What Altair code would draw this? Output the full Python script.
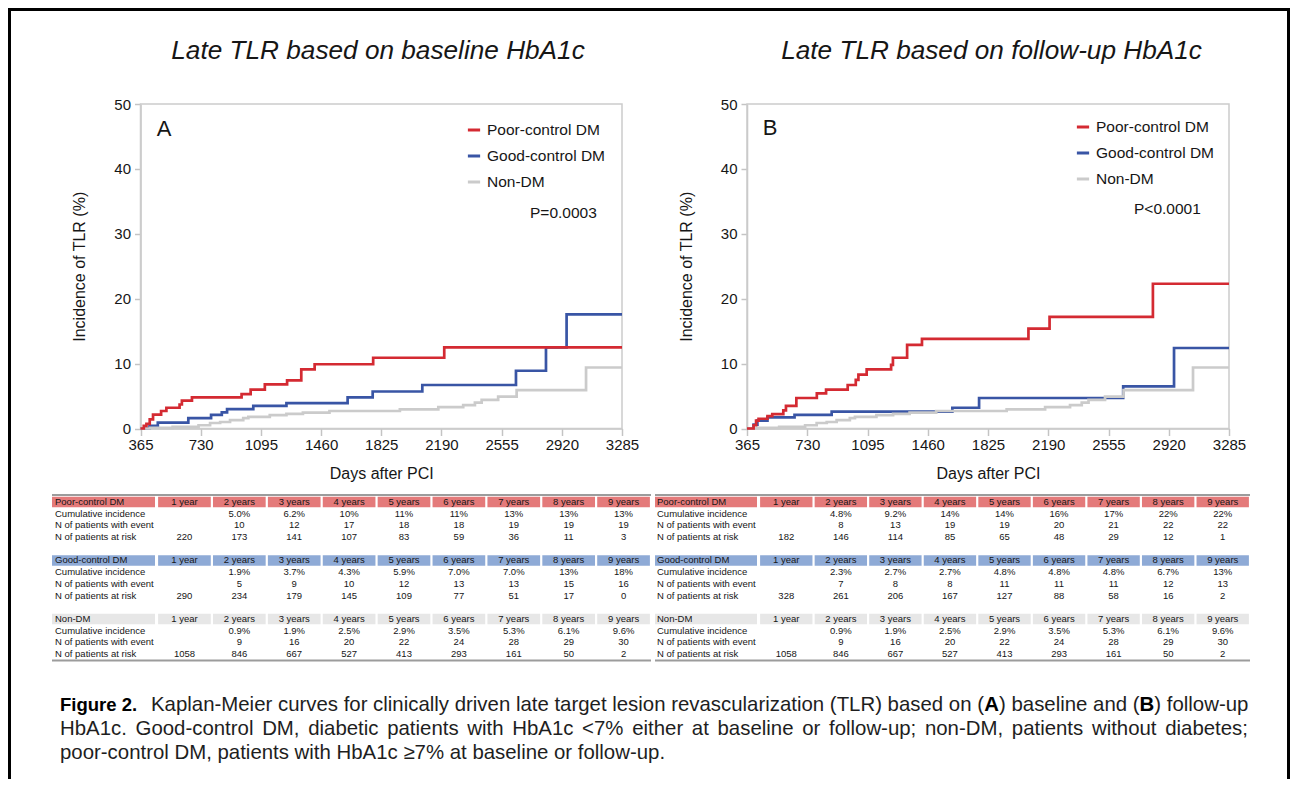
import altair as alt
import pandas as pd

FONT = "Liberation Sans, Arial, Helvetica, sans-serif"
NARROW = "Liberation Sans Narrow, Arial Narrow, Liberation Sans, sans-serif"
W, H = 1282, 771

# ---------------- data ----------------
groups = ["Poor-control DM", "Good-control DM", "Non-DM"]
line_colors = ["#d42a32", "#3955a5", "#cbcbcb"]
header_colors = ["#e47a7a", "#8eaad6", "#e7e7e7"]
x_ticks = [365, 730, 1095, 1460, 1825, 2190, 2555, 2920, 3285]
y_ticks = [0, 10, 20, 30, 40, 50]

# Panel A (baseline HbA1c)
a_poor_days = [365, 385, 401, 421, 441, 490, 522, 602, 616, 677, 978, 1033, 1119, 1254, 1340, 1421, 1776, 2207, 3285]
a_poor_inc = [0, 0.4, 0.7, 1.4, 2.15, 2.7, 3.2, 3.7, 4.3, 4.8, 5.3, 6.0, 6.8, 7.4, 9.1, 9.9, 10.9, 12.5, 12.5]
a_good_days = [365, 420, 470, 655, 793, 858, 890, 1049, 1250, 1621, 1773, 2074, 2642, 2824, 2949, 3285]
a_good_inc = [0, 0.4, 0.9, 1.6, 2.1, 2.5, 3.0, 3.5, 3.9, 4.8, 5.7, 6.7, 8.9, 12.5, 17.6, 17.6]
# Non-DM (same patients in both panels)
non_days = [365, 425, 560, 717, 787, 848, 908, 988, 1019, 1149, 1250, 1350, 1511, 1938, 2171, 2322, 2393, 2434, 2534, 2646, 3067, 3285]
non_inc = [0, 0.1, 0.25, 0.5, 0.85, 1.0, 1.3, 1.6, 1.8, 2.05, 2.25, 2.45, 2.7, 2.95, 3.3, 3.6, 4.0, 4.4, 4.9, 5.9, 9.4, 9.4]
# Panel B (follow-up HbA1c)
b_poor_days = [365, 405, 420, 435, 489, 518, 585, 601, 664, 788, 844, 975, 1024, 1040, 1090, 1238, 1249, 1335, 1425, 2070, 2198, 2824, 3285]
b_poor_inc = [0, 0.5, 1.2, 1.5, 1.9, 2.2, 2.8, 3.5, 4.7, 5.4, 6.0, 6.7, 7.5, 8.3, 9.1, 9.8, 10.9, 12.9, 13.8, 15.4, 17.2, 22.3, 22.3]
b_good_days = [365, 405, 428, 489, 653, 878, 1609, 1771, 2644, 2952, 3285]
b_good_inc = [0, 0.6, 1.2, 1.7, 2.1, 2.6, 3.2, 4.7, 6.5, 12.4, 12.4]

panel_titles = ["Late TLR based on baseline HbA1c", "Late TLR based on follow-up HbA1c"]
panel_letters = ["A", "B"]
p_values = ["P=0.0003", "P<0.0001"]

years = ["1 year", "2 years", "3 years", "4 years", "5 years", "6 years", "7 years", "8 years", "9 years"]
row_labels = ["Cumulative incidence", "N of patients with event", "N of patients at risk"]

a_poor_cum = ["", "5.0%", "6.2%", "10%", "11%", "11%", "13%", "13%", "13%"]
a_poor_evt = ["", "10", "12", "17", "18", "18", "19", "19", "19"]
a_poor_risk = ["220", "173", "141", "107", "83", "59", "36", "11", "3"]
a_good_cum = ["", "1.9%", "3.7%", "4.3%", "5.9%", "7.0%", "7.0%", "13%", "18%"]
a_good_evt = ["", "5", "9", "10", "12", "13", "13", "15", "16"]
a_good_risk = ["290", "234", "179", "145", "109", "77", "51", "17", "0"]
non_cum = ["", "0.9%", "1.9%", "2.5%", "2.9%", "3.5%", "5.3%", "6.1%", "9.6%"]
non_evt = ["", "9", "16", "20", "22", "24", "28", "29", "30"]
non_risk = ["1058", "846", "667", "527", "413", "293", "161", "50", "2"]
b_poor_cum = ["", "4.8%", "9.2%", "14%", "14%", "16%", "17%", "22%", "22%"]
b_poor_evt = ["", "8", "13", "19", "19", "20", "21", "22", "22"]
b_poor_risk = ["182", "146", "114", "85", "65", "48", "29", "12", "1"]
b_good_cum = ["", "2.3%", "2.7%", "2.7%", "4.8%", "4.8%", "4.8%", "6.7%", "13%"]
b_good_evt = ["", "7", "8", "8", "11", "11", "11", "12", "13"]
b_good_risk = ["328", "261", "206", "167", "127", "88", "58", "16", "2"]

caption_fig = "Figure 2."
caption_l1 = ["Kaplan-Meier curves for clinically driven late target lesion revascularization (TLR) based on (",
              "A", ") baseline and (", "B", ") follow-up"]
caption_l2 = ("HbA1c. Good-control DM, diabetic patients with HbA1c <7% either at baseline "
              "or follow-up; non-DM, patients without diabetes;")
caption_l3 = "poor-control DM, patients with HbA1c \u22657% at baseline or follow-up."

# ---------------- layout (pixels in the canvas) ----------------
Y_BOT, Y_TOP = 420.5, 96
TXT = "#161616"
CAP_SIZE = 20.4
# Helvetica/Arial advance widths (1/1000 em) used to justify caption line 2
ADV = {' ': 278, 'H': 722, 'b': 556, 'A': 667, '1': 556, 'c': 500, '.': 278, 'G': 778, 'o': 556,
       'd': 556, '-': 333, 'n': 556, 't': 278, 'r': 333, 'l': 222, 'D': 722, 'M': 833, ',': 278,
       'i': 222, 'a': 556, 'e': 556, 'p': 556, 's': 500, 'w': 722, 'h': 556, '<': 584, '7': 556,
       '%': 889, 'f': 278, 'u': 556, ';': 278}


def text_at(t, x, y, **kw):
    return alt.Chart(pd.DataFrame({"t": [t]})).mark_text(**kw).encode(
        text="t:N", x=alt.value(x), y=alt.value(y))


def make_panel(series, x_rng, letter, letter_xy, pval, pval_xy, leg_xy):
    rows = []
    for g, (days, inc) in zip(groups, series):
        for d, v in zip(days, inc):
            rows.append({"day": d, "inc": v, "group": g})
    df = pd.DataFrame(rows)
    xs = alt.Scale(domain=[365, 3285], range=x_rng, nice=False, zero=False)
    ys = alt.Scale(domain=[0, 50], range=[Y_BOT, Y_TOP], nice=False, zero=False)
    cs = alt.Scale(domain=groups, range=line_colors)
    common = dict(domainColor="#c4c4c4", domainWidth=1.5, tickColor="#c4c4c4", tickWidth=1.5,
                  labelFont=FONT, labelFontSize=15, labelColor=TXT, titleFont=FONT,
                  titleFontSize=16, titleFontWeight="normal", titleColor=TXT, grid=False,
                  labelOverlap=False)
    xa = alt.Axis(orient="bottom", offset=Y_BOT - H, values=x_ticks, format="d",
                  title="Days after PCI", tickSize=7, labelPadding=2, titlePadding=13,
                  labelFlush=False, **common)
    ya = alt.Axis(orient="left", offset=-x_rng[0], values=y_ticks, format="d",
                  title="Incidence of TLR (%)", tickSize=6, labelPadding=4, titlePadding=26,
                  **common)
    leg = alt.Legend(orient="none", legendX=leg_xy[0], legendY=leg_xy[1], title=None,
                     symbolType="stroke", symbolSize=150, symbolStrokeWidth=3,
                     labelFont=FONT, labelFontSize=15.5, labelColor=TXT, labelOffset=5,
                     rowPadding=9, padding=0)
    frame = alt.Chart(pd.DataFrame({"x0": [365], "x1": [3285], "y0": [0], "y1": [50]})).mark_rect(
        fillOpacity=0, stroke="#cccccc", strokeWidth=1.5).encode(
        x=alt.X("x0:Q", scale=xs, axis=xa), x2="x1:Q",
        y=alt.Y("y0:Q", scale=ys, axis=ya), y2="y1:Q")
    layers = [frame]
    for g in ["Good-control DM", "Non-DM", "Poor-control DM"]:
        layers.append(
            alt.Chart(df).transform_filter(alt.datum.group == g)
            .mark_line(interpolate="step-after", strokeWidth=2.7)
            .encode(x=alt.X("day:Q", scale=xs, axis=xa),
                    y=alt.Y("inc:Q", scale=ys, axis=ya),
                    color=alt.Color("group:N", scale=cs, legend=leg)))
    layers.append(text_at(letter, letter_xy[0], letter_xy[1], font=FONT, fontSize=22,
                          align="center", baseline="alphabetic", color=TXT))
    layers.append(text_at(pval, pval_xy[0], pval_xy[1], font=FONT, fontSize=15.5,
                          align="left", baseline="alphabetic", color=TXT))
    return alt.layer(*layers)


row_keys = ["0h", "0c", "0e", "0r", "gap0", "1h", "1c", "1e", "1r", "gap1", "2h", "2c", "2e", "2r"]


def make_table(tdata, x_rng, label_x, cell_l, cell_r, line_l, line_r):
    txt_rows, lab_rows, hdr_rows, hdr_lab = [], [], [], []
    for gi, g in enumerate(groups):
        lab_rows.append({"row": f"{gi}h", "t": g})
        hdr_lab.append({"row": f"{gi}h", "g": g})
        for k, lab in zip("cer", row_labels):
            lab_rows.append({"row": f"{gi}{k}", "t": lab})
        for yi, yr in enumerate(years):
            hdr_rows.append({"row": f"{gi}h", "col": yr, "g": g})
            txt_rows.append({"row": f"{gi}h", "col": yr, "t": yr})
            for k, vals in zip("cer", tdata[gi]):
                txt_rows.append({"row": f"{gi}{k}", "col": yr, "t": vals[yi]})
    xs = alt.Scale(type="band", domain=years, range=x_rng, paddingInner=0.04, paddingOuter=0.02)
    ys = alt.Scale(type="band", domain=row_keys, range=[488.2, 651.8], paddingInner=0.1,
                   paddingOuter=0.05)
    fs = alt.Scale(domain=groups, range=header_colors)
    cells = alt.Chart(pd.DataFrame(hdr_rows)).mark_rect().encode(
        x=alt.X("col:N", scale=xs, axis=None), y=alt.Y("row:N", scale=ys, axis=None),
        color=alt.Color("g:N", scale=fs, legend=None))
    lab_cells = alt.Chart(pd.DataFrame(hdr_lab)).mark_rect().encode(
        x=alt.value(cell_l), x2=alt.value(cell_r), y=alt.Y("row:N", scale=ys, axis=None),
        color=alt.Color("g:N", scale=fs, legend=None))
    vals = alt.Chart(pd.DataFrame(txt_rows)).mark_text(font=FONT, fontSize=9.5, color=TXT).encode(
        x=alt.X("col:N", scale=xs, axis=None), y=alt.Y("row:N", scale=ys, axis=None), text="t:N")
    labs = alt.Chart(pd.DataFrame(lab_rows)).mark_text(font=FONT, fontSize=9.5, color=TXT,
                                                       align="left").encode(
        x=alt.value(label_x), y=alt.Y("row:N", scale=ys, axis=None), text="t:N")
    top = alt.Chart(pd.DataFrame({"a": [0]})).mark_rule(color="#9c9c9c", strokeWidth=2).encode(
        x=alt.value(line_l), x2=alt.value(line_r), y=alt.value(487))
    bot = alt.Chart(pd.DataFrame({"a": [0]})).mark_rule(color="#9c9c9c", strokeWidth=2).encode(
        x=alt.value(line_l), x2=alt.value(line_r), y=alt.value(652.5))
    return alt.layer(cells, lab_cells, top, bot, vals, labs)


def justified_words(text, x0, x1, y, **kw):
    """Lay a caption line out word by word, spread to the full measure (justified)."""
    words = text.split(" ")
    natural = [sum(ADV[c] for c in w) / 1000 * CAP_SIZE for w in words]
    space = ADV[' '] / 1000 * CAP_SIZE
    extra = ((x1 - x0) - sum(natural) - space * (len(words) - 1)) / (len(words) - 1)
    out, x = [], x0
    for w, wd in zip(words, natural):
        out.append(text_at(w, x, y, **kw))
        x += wd + space + extra
    return out


panelA = make_panel([(a_poor_days, a_poor_inc), (a_good_days, a_good_inc), (non_days, non_inc)],
                    [132.5, 614], panel_letters[0], (156, 128), p_values[0], (522, 209.5), (458, 114))
panelB = make_panel([(b_poor_days, b_poor_inc), (b_good_days, b_good_inc), (non_days, non_inc)],
                    [739, 1221], panel_letters[1], (762, 127), p_values[1], (1126, 205.5), (1067, 111))

tableA = make_table([(a_poor_cum, a_poor_evt, a_poor_risk), (a_good_cum, a_good_evt, a_good_risk),
                     (non_cum, non_evt, non_risk)], [149, 643], 47, 44, 147, 44, 643)
tableB = make_table([(b_poor_cum, b_poor_evt, b_poor_risk), (b_good_cum, b_good_evt, b_good_risk),
                     (non_cum, non_evt, non_risk)], [751, 1242], 649, 647, 749, 647, 1242)

border = alt.Chart(pd.DataFrame({"a": [0]})).mark_rect(fillOpacity=0, stroke="#000000",
                                                       strokeWidth=3).encode(
    x=alt.value(1.5), x2=alt.value(W - 1.5), y=alt.value(1.5), y2=alt.value(H + 20))

titles = [
    text_at(panel_titles[0], 370, 51, font=FONT, fontSize=26.2, fontStyle="italic", align="center",
            baseline="alphabetic", color=TXT),
    text_at(panel_titles[1], 983.5, 51, font=FONT, fontSize=26.2, fontStyle="italic", align="center",
            baseline="alphabetic", color=TXT),
]

CAP = dict(font=FONT, fontSize=CAP_SIZE, align="left", baseline="alphabetic", color="#1e1e1e")
CAPB = dict(font=FONT, fontSize=CAP_SIZE, fontWeight="bold", align="left", baseline="alphabetic",
            color="#000000")
caption = [
    text_at(caption_fig, 52, 703, font=NARROW, fontSize=18.5, fontWeight="bold", align="left",
            baseline="alphabetic", color="#000000"),
    text_at(caption_l1[0], 143, 703, **CAP),
    text_at(caption_l1[1], 976.3, 703, **CAPB),
    text_at(caption_l1[2], 991.0, 703, **CAP),
    text_at(caption_l1[3], 1131.6, 703, **CAPB),
    text_at(caption_l1[4], 1146.3, 703, **CAP),
    *justified_words(caption_l2, 52, 1240, 727, **CAP),
    text_at(caption_l3, 52, 751, **CAP),
]

chart = alt.layer(border, *titles, panelA, panelB, tableA, tableB, *caption).resolve_scale(
    x="independent", y="independent", color="independent").resolve_axis(
    x="independent", y="independent").resolve_legend(color="independent").properties(
    width=W, height=H, autosize=alt.AutoSizeParams(type="none"), padding=0,
    background="white").configure_view(strokeWidth=0)

chart.save("out.html", embed_options={"renderer": "svg", "actions": False})
